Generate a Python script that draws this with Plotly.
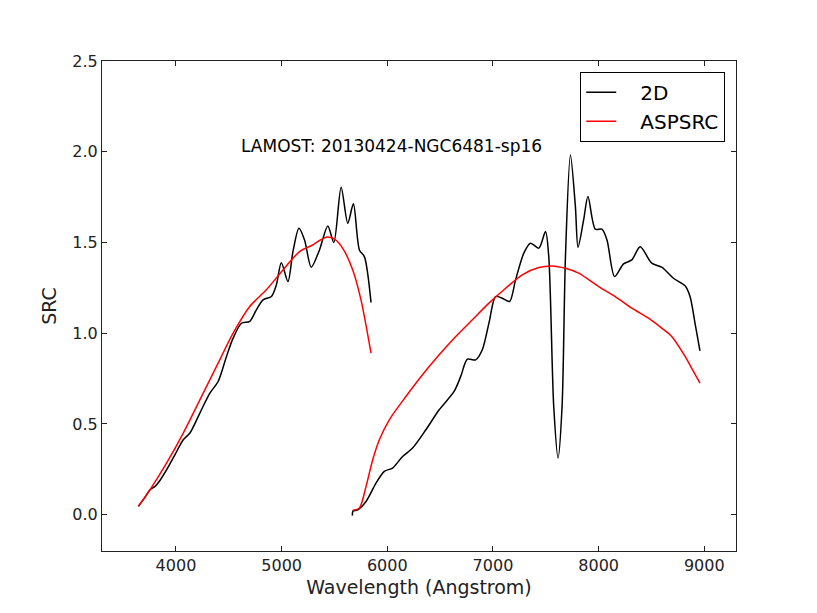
import plotly.graph_objs as go

# blue arm (LAMOST b) - wavelength in Angstrom, SRC values
wave_blue_2d = [3644, 3700, 3755, 3802, 3850, 3912, 3990, 4069, 4132, 4226, 4321, 4399,
                4478, 4541, 4620, 4698, 4761, 4824, 4903, 4950, 4997, 5060, 5107, 5164,
                5217, 5280, 5358, 5437, 5494, 5563, 5626, 5679, 5736, 5783, 5846]
src_blue_2d = [0.046, 0.09, 0.138, 0.156, 0.19, 0.248, 0.33, 0.413, 0.45, 0.56, 0.67, 0.734,
               0.872, 0.973, 1.055, 1.065, 1.129, 1.184, 1.202, 1.266, 1.389, 1.285, 1.45, 1.579,
               1.514, 1.364, 1.459, 1.591, 1.50, 1.805, 1.606, 1.713, 1.459, 1.422, 1.169]

wave_blue_asp = [3644, 3755, 3912, 4069, 4226, 4384, 4541, 4698, 4855, 5013, 5170, 5296,
                 5421, 5500, 5578, 5673, 5751, 5846]
src_blue_asp = [0.046, 0.138, 0.285, 0.45, 0.633, 0.817, 1.0, 1.147, 1.239, 1.349, 1.45, 1.487,
                1.529, 1.518, 1.468, 1.349, 1.184, 0.89]

# red arm (LAMOST r)
wave_red_2d = [5670, 5675, 5720, 5799, 5893, 5972, 6050, 6145, 6239, 6365, 6491, 6632, 6695,
               6758, 6836, 6899, 6962, 7025, 7088, 7157, 7214, 7292, 7355, 7434, 7497, 7528,
               7575, 7616, 7654, 7686, 7733, 7780, 7805, 7858, 7899, 7969, 8031, 8079, 8151,
               8236, 8314, 8393, 8503, 8597, 8708, 8818, 8865, 8912, 8959]
src_red_2d = [-0.005, 0.02, 0.027, 0.073, 0.174, 0.239, 0.257, 0.321, 0.367, 0.468, 0.578, 0.679,
              0.762, 0.857, 0.853, 0.909, 1.056, 1.202, 1.193, 1.175, 1.294, 1.441, 1.496, 1.469,
              1.56, 1.422, 0.596, 0.312, 0.596, 1.422, 1.982, 1.698, 1.474, 1.624, 1.753, 1.573,
              1.573, 1.514, 1.312, 1.382, 1.404, 1.477, 1.386, 1.364, 1.303, 1.261, 1.202, 1.056,
              0.903]

wave_red_asp = [5673, 5736, 5799, 5862, 5925, 6019, 6176, 6333, 6491, 6648, 6805, 6962, 7120,
                7277, 7434, 7560, 7686, 7811, 8000, 8157, 8314, 8472, 8597, 8692, 8818, 8880,
                8959]
src_red_asp = [0.024, 0.037, 0.156, 0.303, 0.413, 0.523, 0.651, 0.771, 0.881, 0.982, 1.074,
               1.166, 1.248, 1.322, 1.362, 1.371, 1.358, 1.331, 1.257, 1.202, 1.138, 1.083,
               1.028, 0.982, 0.872, 0.808, 0.725]

title_text = "LAMOST: 20130424-NGC6481-sp16"

font = "DejaVu Sans, sans-serif"
gap = "\u00a0\u00a0\u00a0"  # push legend text away from the line sample

fig = go.Figure()
fig.add_trace(go.Scatter(
    x=wave_blue_2d + [None] + wave_red_2d,
    y=src_blue_2d + [None] + src_red_2d,
    mode="lines", name=gap + "2D",
    line=dict(color="black", width=1.5, shape="spline", smoothing=0.8),
))
fig.add_trace(go.Scatter(
    x=wave_blue_asp + [None] + wave_red_asp,
    y=src_blue_asp + [None] + src_red_asp,
    mode="lines", name=gap + "ASPSRC",
    line=dict(color="red", width=1.5, shape="spline", smoothing=0.8),
))

fig.add_annotation(x=4600, y=2.03, text=title_text, showarrow=False,
                   xanchor="left", yanchor="middle",
                   font=dict(family=font, size=17, color="black"))

axis_style = dict(
    showline=True, linecolor="#222", linewidth=1.2, mirror="ticks",
    ticks="inside", ticklen=5, tickcolor="#222", tickwidth=1,
    showgrid=False, zeroline=False,
    tickfont=dict(family=font, size=16, color="#222"),
)

# page body has an 8px default margin, so the figure is drawn 8px smaller
fig.update_layout(
    width=809, height=605,
    margin=dict(l=94, r=81, t=53, b=62),
    paper_bgcolor="white", plot_bgcolor="white",
    showlegend=True,
    legend=dict(x=0.983, y=0.978, xanchor="right", yanchor="top",
                bordercolor="black", borderwidth=1, bgcolor="white",
                font=dict(family=font, size=20, color="black")),
    xaxis=dict(range=[3300, 9300], tickvals=[4000, 5000, 6000, 7000, 8000, 9000],
               title=dict(text="Wavelength (Angstrom)", standoff=6,
                          font=dict(family=font, size=19, color="#222")),
               **axis_style),
    yaxis=dict(range=[-0.2, 2.5], tickvals=[0.0, 0.5, 1.0, 1.5, 2.0, 2.5],
               tickformat=".1f",
               title=dict(text="SRC", standoff=10,
                          font=dict(family=font, size=19, color="#222")),
               **axis_style),
)

fig.write_html("out.html")
